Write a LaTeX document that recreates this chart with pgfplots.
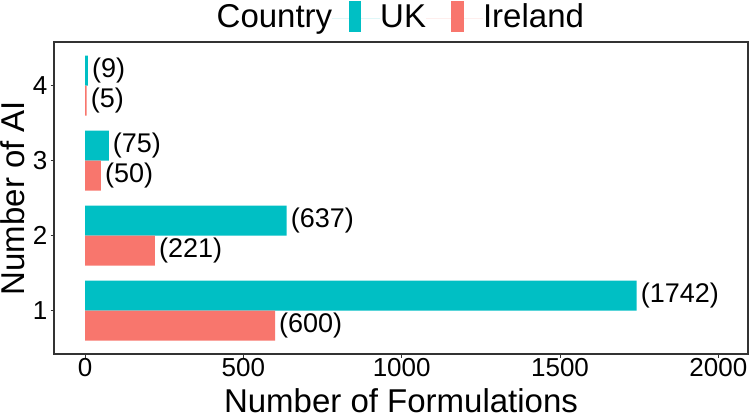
\documentclass[border=0pt]{standalone}
\usepackage{fontspec}
\setmainfont{Liberation Sans}
\usepackage{pgfplots}
\usepackage{pgfplotstable}
\pgfplotsset{compat=1.18}
\definecolor{ukc}{HTML}{00BFC4}
\definecolor{iec}{HTML}{F8766D}
\definecolor{framec}{HTML}{333333}
\pgfplotstableread{
n uk ie
1 1742 600
2 637 221
3 75 50
4 9 5
}\datatable
\begin{document}
\begin{tikzpicture}
\begin{axis}[
  at={(54bp,62bp)}, anchor=south west,
  scale only axis, width=694bp, height=312bp,
  xmin=-97.9, xmax=2093.5, ymin=0.423, ymax=4.583,
  xtick={0,500,1000,1500,2000}, ytick={1,2,3,4},
  xtick pos=bottom, ytick pos=left,
  tick align=outside, major tick length=3.5bp,
  tick style={color=framec, line width=0.8bp},
  axis line style={color=framec, line width=1.1bp},
  /pgf/number format/assume math mode=true,
  /pgf/number format/1000 sep={},
  ticklabel style={font=\fontsize{26bp}{30bp}\selectfont, text=black},
  xticklabel style={inner sep=1bp},
  yticklabel style={inner sep=3bp},
  xlabel={Number of Formulations}, ylabel={Number of AI},
  every axis x label/.style={at={(axis description cs:0.5,-0.186)}, anchor=base, inner sep=0pt, font=\fontsize{33bp}{38bp}\selectfont},
  every axis y label/.style={at={(axis description cs:-0.0418,0.5)}, rotate=90, anchor=base, inner sep=0pt, font=\fontsize{33bp}{38bp}\selectfont},
  legend columns=-1,
  legend cell align=left,
  legend style={at={(axis description cs:0.2344,1.0256)}, anchor=south west,
    draw=none, fill=none, inner sep=0pt, outer sep=0pt,
    font=\fontsize{33bp}{38bp}\selectfont,
    nodes={inner sep=0pt, text height=24bp, text depth=7bp},
    column sep=0pt},
  every node near coord/.append style={font=\fontsize{27bp}{31bp}\selectfont, inner sep=0pt, anchor=west, xshift=4bp, text=black},
]
\addlegendimage{empty legend}
\addlegendentry{Country}
\addplot[xbar, bar width=0.4, bar shift=0.2, fill=ukc, draw=none,
  point meta=x, nodes near coords={(\pgfmathprintnumber{\pgfplotspointmeta})},
  every node near coord/.append style={yshift=15bp},
  legend image code/.code={\path (0bp,0bp) -- (48bp,0bp); \fill[ukc] (17bp,-13.2bp) rectangle (28.6bp,17.8bp);}]
  table[x=uk, y=n] {\datatable};
\addlegendentry{UK}
\addplot[xbar, bar width=0.4, bar shift=-0.2, fill=iec, draw=none,
  point meta=x, nodes near coords={(\pgfmathprintnumber{\pgfplotspointmeta})},
  every node near coord/.append style={yshift=-15bp},
  legend image code/.code={\path (0bp,0bp) -- (57bp,0bp); \fill[iec] (25bp,-13.2bp) rectangle (38bp,17.8bp);}]
  table[x=ie, y=n] {\datatable};
\addlegendentry{Ireland}
\end{axis}
\pgfresetboundingbox
\useasboundingbox (0,0) rectangle (751bp,416bp);
\end{tikzpicture}
\end{document}
